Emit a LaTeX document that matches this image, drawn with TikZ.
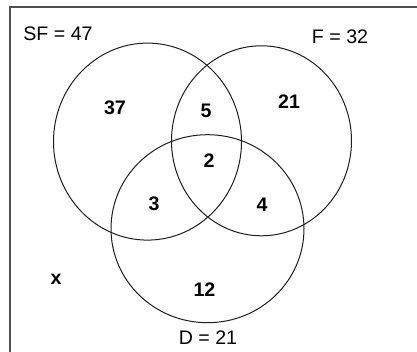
\documentclass[tikz,border=0pt]{standalone}
\usepackage{fontspec}
\setmainfont{Liberation Sans}
\definecolor{framegray}{RGB}{80, 80, 80}
\definecolor{ringline}{RGB}{30, 30, 30}
\usetikzlibrary{positioning}

\begin{document}
\begin{tikzpicture}[x=0.5pt, y=-0.5pt,
    ring/.style={ringline, line width=0.5pt},
    setlabel/.style={inner sep=0pt, font=\fontsize{9.8}{12}\selectfont},
    count/.style={inner sep=0pt, font=\fontsize{9.8}{12}\selectfont\bfseries}]
                \useasboundingbox (0,0) rectangle (417,352);

                % Frame (runs off the right and bottom edges)
                \draw[framegray, line width=1pt] (9.5,352) -- (9.5,7.5) -- (417,7.5);

                % Centres of the three sets
                \coordinate (sf) at (147.5,141.6);
                \coordinate (f) at (261.5,140.8);
                \coordinate (d) at (207.5,228.7);

                % Circles
                \draw[ring] (sf) ellipse [x radius=94, y radius=98.5];
                \draw[ring] (f) ellipse [x radius=90, y radius=95];
                \draw[ring] (d) ellipse [x radius=96.5, y radius=94];

                % Set labels
                \node[setlabel] (sflabel) at (58,33.7) {SF = 47};
                \node[setlabel] (flabel) at (340,37) {F = 32};
                \node[setlabel] (dlabel) at (208,338) {D = 21};

                % Region counts
                \node[count] (onlysf) at (115,107.5) {37};
                \node[count] (sfandf) at (206,111) {5};
                \node[count] (onlyf) at (289,101.5) {21};
                \node[count] (allthree) at (209,160.5) {2};
                \node[count] (sfandd) at (154,204) {3};
                \node[count] (fandd) at (262,204.5) {4};
                \node[count] (onlyd) at (204.5,289.5) {12};
                \node[count] (outside) at (56,279.5) {x};
\end{tikzpicture}
\end{document}
